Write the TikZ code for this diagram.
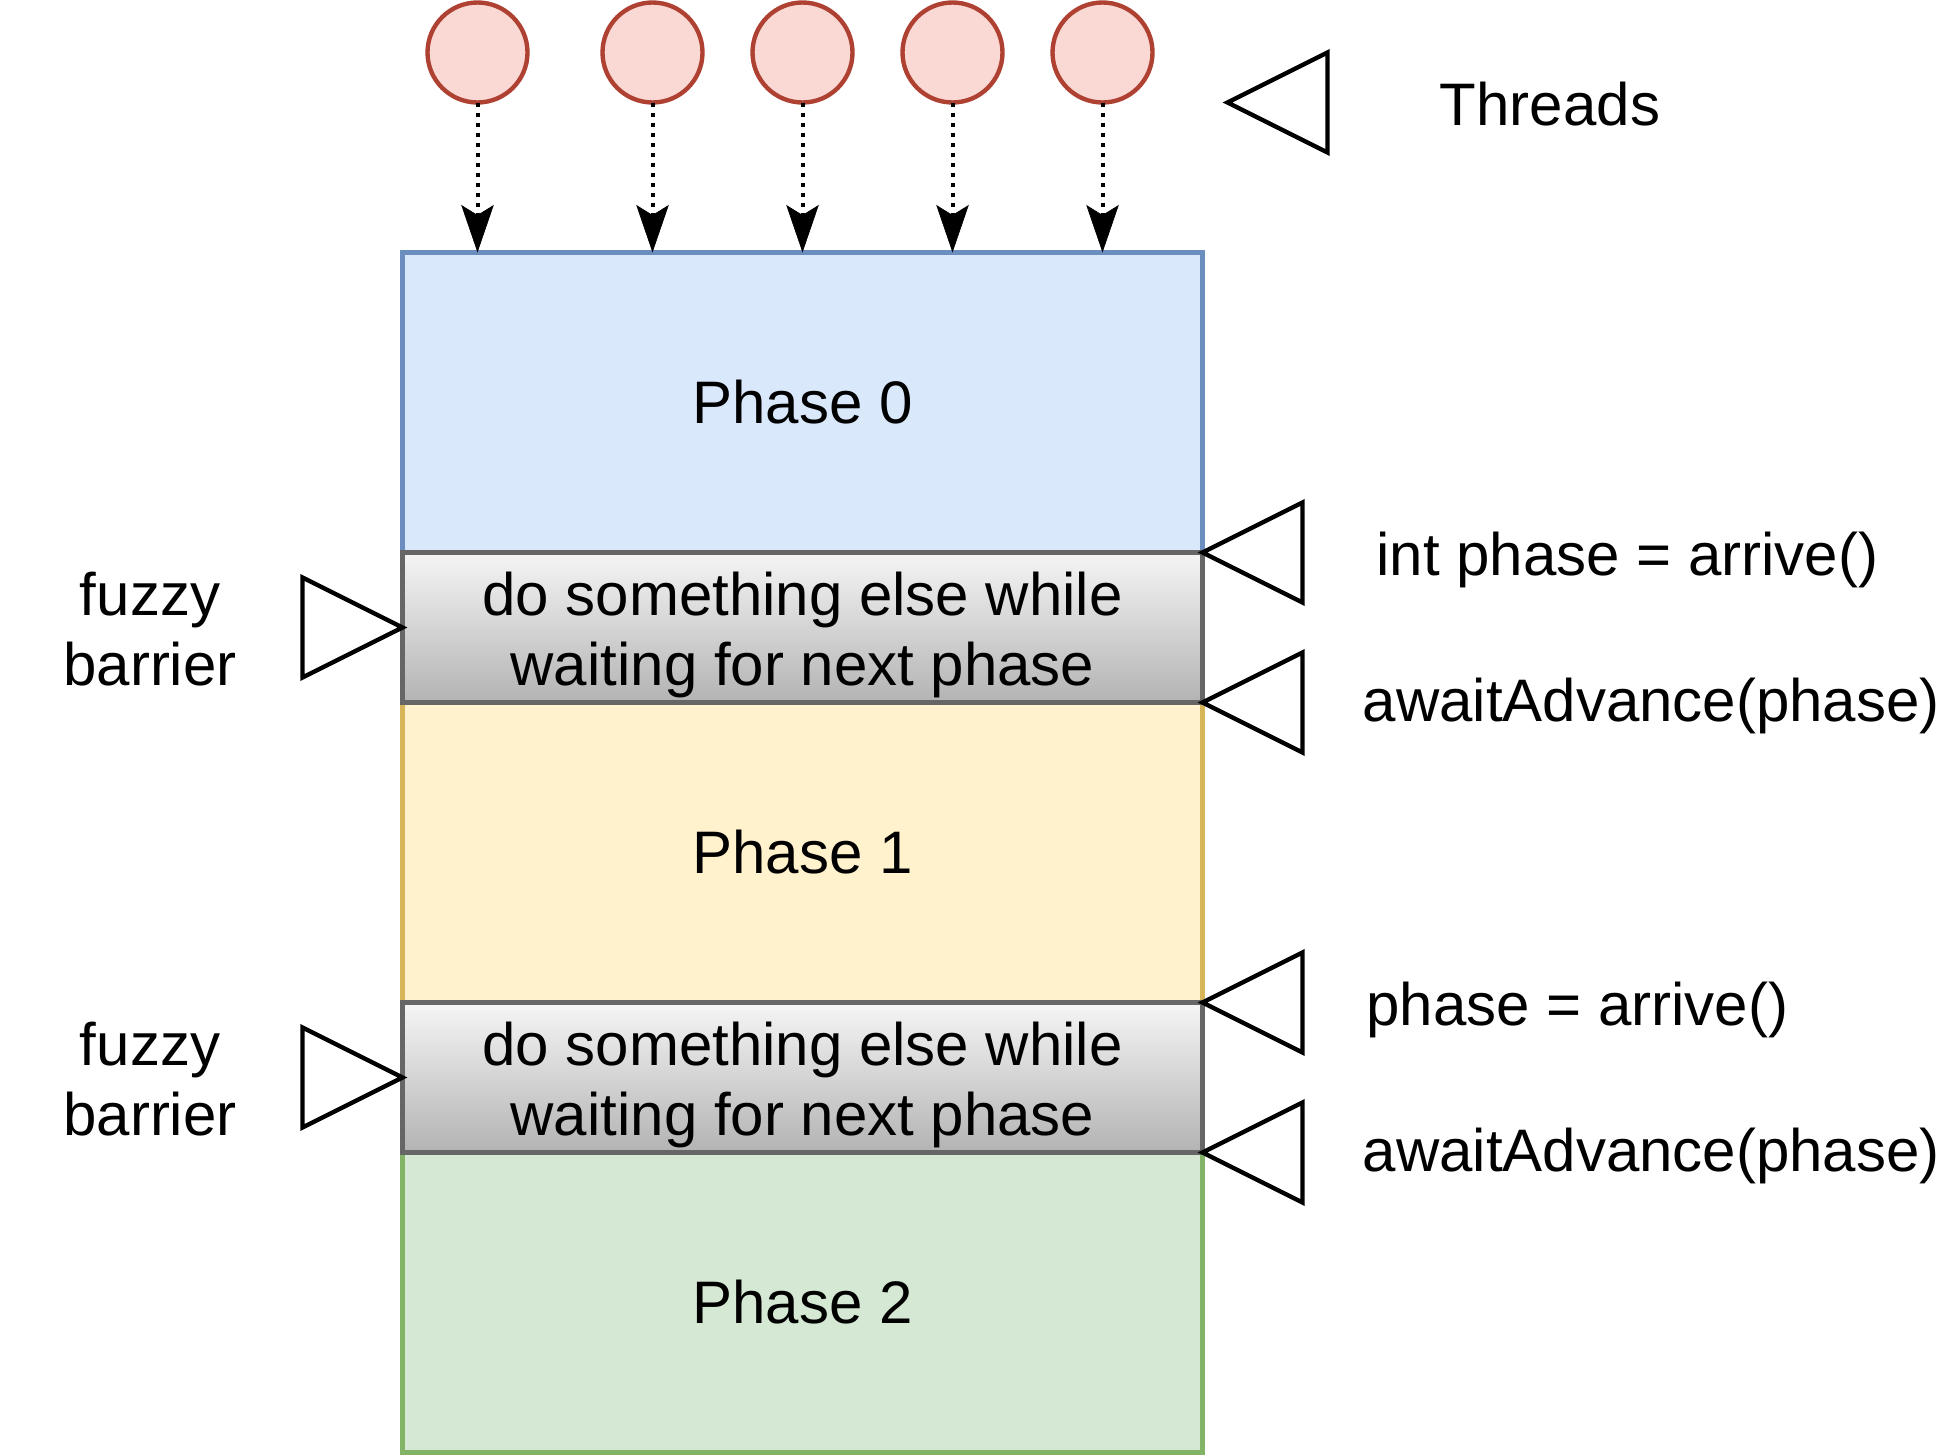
\documentclass[tikz,border=0pt]{standalone}
\usepackage{fontspec}
\setmainfont{Liberation Sans}
\usetikzlibrary{arrows.meta}
\definecolor{bluefill}{HTML}{DAE8FC}
\definecolor{bluestroke}{HTML}{6C8EBF}
\definecolor{yellowfill}{HTML}{FFF2CC}
\definecolor{yellowstroke}{HTML}{D6B656}
\definecolor{greenfill}{HTML}{D5E8D4}
\definecolor{greenstroke}{HTML}{82B366}
\definecolor{graytop}{HTML}{F5F5F5}
\definecolor{graybottom}{HTML}{B3B3B3}
\definecolor{graystroke}{HTML}{666666}
\definecolor{threadfill}{HTML}{FAD9D5}
\definecolor{threadstroke}{HTML}{AE4132}
\tikzset{
  phasebox/.style={rectangle, minimum width=640pt, minimum height=240pt, inner sep=0pt, outer sep=0pt, line width=4pt},
  waitbox/.style={rectangle, minimum width=640pt, minimum height=120pt, inner sep=0pt, outer sep=0pt, line width=4pt,
     draw=graystroke, top color=graytop, bottom color=graybottom},
  thread/.style={circle, minimum size=80pt, inner sep=0pt, outer sep=0pt, line width=3.5pt, draw=threadstroke, fill=threadfill},
  lbl/.style={anchor=base, inner sep=0pt, font=\fontsize{48}{56}\selectfont},
  lbll/.style={anchor=base west, inner sep=0pt, font=\fontsize{48}{56}\selectfont},
  marker/.style={draw=black, line width=3.5pt, line join=miter},
  flow/.style={line width=3.2pt, dash pattern=on 3.2pt off 4.8pt,
     -{Stealth[length=38pt, width=26pt, inset=8pt, line width=0.5pt]}},
}
\begin{document}
\begin{tikzpicture}[x=1pt,y=-1pt]
\useasboundingbox (0,0) rectangle (1568,1164);
% phase boxes
\node[phasebox, draw=bluestroke, fill=bluefill] (p0) at (642,322) {};
\node[phasebox, draw=yellowstroke, fill=yellowfill] (p1) at (642,682) {};
\node[phasebox, draw=greenstroke, fill=greenfill] (p2) at (642,1042) {};
\node[waitbox] (w1) at (642,502) {};
\node[waitbox] (w2) at (642,862) {};
% texts in boxes
\node[lbl] (p0t) at (642,339) {Phase 0};
\node[lbl] (p1t) at (642,699) {Phase 1};
\node[lbl] (p2t) at (642,1059) {Phase 2};
\node[lbl] (w1a) at (642,492) {do something else while};
\node[lbl] (w1b) at (642,548) {waiting for next phase};
\node[lbl] (w2a) at (642,852) {do something else while};
\node[lbl] (w2b) at (642,908) {waiting for next phase};
% threads
\foreach \i/\x in {1/382,2/522,3/642,4/762,5/882}{
  \node[thread] (t\i) at (\x,42) {};
  \draw[flow] (t\i.south) -- (t\i.south |- p0.north);
}
% markers
\draw[marker] (982,82) -- (1062,42) -- (1062,122) -- cycle;
\draw[marker] (962,442) -- (1042,402) -- (1042,482) -- cycle;
\draw[marker] (962,562) -- (1042,522) -- (1042,602) -- cycle;
\draw[marker] (962,802) -- (1042,762) -- (1042,842) -- cycle;
\draw[marker] (962,922) -- (1042,882) -- (1042,962) -- cycle;
\draw[marker] (322,502) -- (242,462) -- (242,542) -- cycle;
\draw[marker] (322,862) -- (242,822) -- (242,902) -- cycle;
% labels
\node[lbl] (thr) at (1240,100) {Threads};
\node[lbll] (l1) at (1101,460) {int phase = arrive()};
\node[lbll] (l2) at (1090,577) {awaitAdvance(phase)};
\node[lbll] (l3) at (1093,820) {phase = arrive()};
\node[lbll] (l4) at (1090,937) {awaitAdvance(phase)};
\node[lbl] (f1a) at (120,492) {fuzzy};
\node[lbl] (f1b) at (120,548) {barrier};
\node[lbl] (f2a) at (120,852) {fuzzy};
\node[lbl] (f2b) at (120,908) {barrier};
\end{tikzpicture}
\end{document}
